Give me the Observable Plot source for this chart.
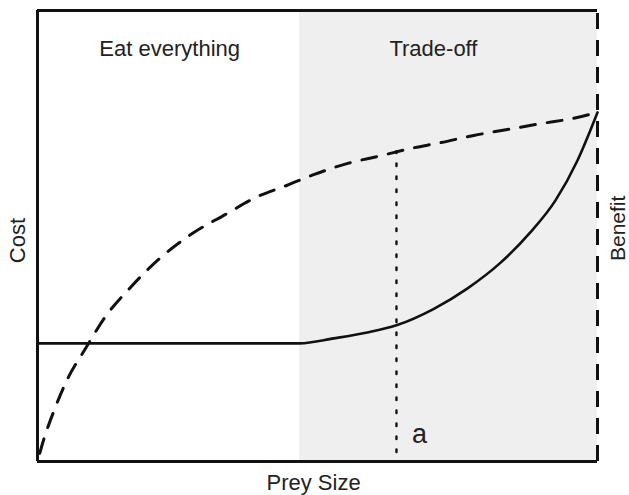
<!DOCTYPE html>
<html>
<head>
<meta charset="utf-8">
<script src="https://cdn.jsdelivr.net/npm/d3@7"></script>
<script src="https://cdn.jsdelivr.net/npm/@observablehq/plot@0.6"></script>
<style>
  html, body { margin: 0; padding: 0; background: #fff; }
  #chart svg { display: block; }
</style>
</head>
<body>
<div id="chart"></div>
<script>
// Prey size (0–10, arbitrary units) and curve values (0–10, arbitrary units)
const costX    = [0, 4.68, 5.29, 5.89, 6.41, 7.07, 7.68, 8.27, 8.80, 9.25, 9.64, 10];
const costY    = [2.62, 2.62, 2.73, 2.86, 3.02, 3.38, 3.84, 4.41, 5.08, 5.79, 6.67, 7.74];
const benefitX = [0.04, 0.09, 0.29, 0.54, 0.86, 1.20, 1.66, 2.20, 2.77, 3.36, 3.89, 4.45, 4.93, 5.54, 6.13, 6.66, 7.20, 7.79, 8.39, 8.98, 9.57, 10];
const benefitY = [0.18, 0.40, 1.11, 1.84, 2.51, 3.19, 3.86, 4.52, 5.06, 5.48, 5.85, 6.12, 6.36, 6.61, 6.78, 6.94, 7.07, 7.23, 7.36, 7.49, 7.61, 7.74];

const tradeOffStart = 4.68;   // prey size where the trade-off region begins
const pointA = 6.41;          // prey size "a"
const pointABenefit = 6.87;   // benefit at a

const regionNames = ["Eat everything", "Trade-off"];
const regionCenters = [2.36, 7.07];

const xLabel = "Prey Size";
const yLabelLeft = "Cost";
const yLabelRight = "Benefit";
const markLabel = "a";

const cost = costX.map((x, i) => ({x, y: costY[i]}));
const benefit = benefitX.map((x, i) => ({x, y: benefitY[i]}));
const regions = regionNames.map((name, i) => ({name, x: regionCenters[i]}));

const font = "'Liberation Sans', Arial, Helvetica, sans-serif";
const ink = "#111";

const chart = Plot.plot({
  width: 629,
  height: 495,
  marginLeft: 37,
  marginRight: 32,
  marginTop: 10,
  marginBottom: 34,
  x: {domain: [0, 10], axis: null},
  y: {domain: [0, 10], axis: null},
  style: {fontFamily: font, background: "#fff", overflow: "visible"},
  marks: [
    // shaded trade-off region
    Plot.rect([{x1: tradeOffStart, x2: 10}], {x1: "x1", x2: "x2", y1: 0, y2: 10, fill: "#efefef"}),
    // dotted line at a
    Plot.ruleX([pointA], {y1: 0.2, y2: pointABenefit, stroke: ink, strokeWidth: 2.4, strokeDasharray: "2.5,10.5", strokeLinecap: "round"}),
    // cost curve (solid)
    Plot.line(cost, {x: "x", y: "y", curve: "monotone-x", stroke: ink, strokeWidth: 2.6}),
    // benefit curve (dashed)
    Plot.line(benefit, {x: "x", y: "y", curve: "monotone-x", stroke: ink, strokeWidth: 3, strokeDasharray: "15,12"}),
    // frame: left, top, bottom solid; right dashed
    Plot.ruleX([0], {y1: 0, y2: 10, stroke: ink, strokeWidth: 3}),
    Plot.ruleY([10], {x1: 0, x2: 10, stroke: ink, strokeWidth: 3}),
    Plot.ruleY([0], {x1: 0, x2: 10, stroke: ink, strokeWidth: 3}),
    Plot.ruleX([10], {y1: 0, y2: 10, stroke: ink, strokeWidth: 3, strokeDasharray: "16,11"}),
    // region labels
    Plot.text(regions, {x: "x", y: 9.14, text: "name", fontSize: 22, fill: "#222", lineAnchor: "middle"}),
    // "a" label
    Plot.text([markLabel], {x: pointA, y: 0.6, dx: 23, text: d => d, fontSize: 27, fill: "#222", lineAnchor: "middle"}),
    // axis labels
    Plot.text([xLabel], {x: 4.93, y: 0, dy: 21, text: d => d, fontSize: 22, fill: "#222", lineAnchor: "middle"}),
    Plot.text([yLabelLeft], {x: 0, y: 4.9, dx: -20, rotate: -90, text: d => d, fontSize: 22, fill: "#222", lineAnchor: "middle"}),
    Plot.text([yLabelRight], {x: 10, y: 5.17, dx: 21, rotate: -90, text: d => d, fontSize: 21, fill: "#222", lineAnchor: "middle"})
  ]
});

document.getElementById("chart").appendChild(chart);
</script>
</body>
</html>
